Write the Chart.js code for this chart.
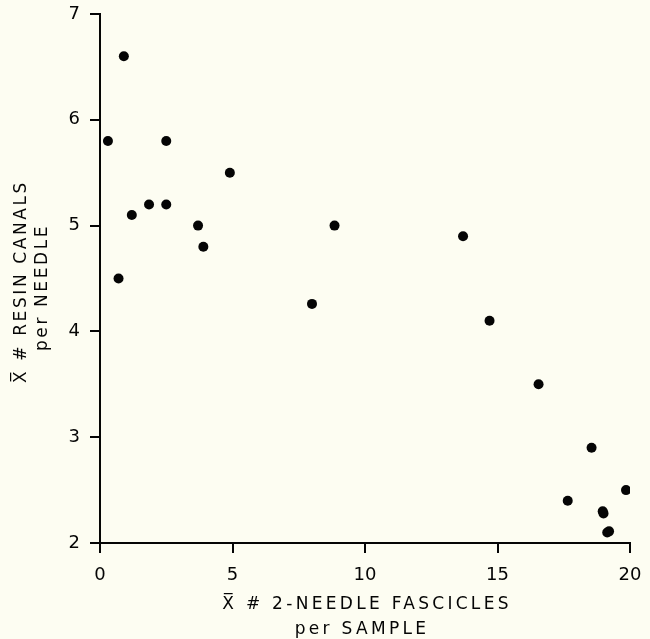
<!DOCTYPE html>
<html>
<head>
<meta charset="utf-8">
<script src="https://cdn.jsdelivr.net/npm/chart.js@4.4.1/dist/chart.umd.min.js"></script>
<style>
  html, body { margin: 0; padding: 0; background: #fdfdf2; }
  #wrap { width: 650px; height: 639px; position: relative; }
</style>
</head>
<body>
<div id="wrap"><canvas id="c" width="650" height="639"></canvas></div>
<script>
// Mean # of 2-needle fascicles per sample (x) vs mean # resin canals per needle (y)
const fasciclesPerSample = [0.3, 0.9, 0.7, 1.2, 1.85, 2.5, 2.5, 3.7, 3.9, 4.9, 8.0, 8.85, 13.7, 14.7, 16.55, 17.65, 18.55, 18.97, 19.0, 19.14, 19.21, 19.85];
const resinCanalsPerNeedle = [5.8, 6.6, 4.5, 5.1, 5.2, 5.2, 5.8, 5.0, 4.8, 5.5, 4.26, 5.0, 4.9, 4.1, 3.5, 2.4, 2.9, 2.30, 2.28, 2.1, 2.11, 2.5];
const xTicks = [0, 5, 10, 15, 20];
const yTicks = [2, 3, 4, 5, 6, 7];
const xTitle = ["X\u0305 # 2-NEEDLE FASCICLES", "per SAMPLE"];
const yTitle = ["X\u0305 # RESIN CANALS", "per NEEDLE"];

const points = fasciclesPerSample.map((x, i) => ({ x: x, y: resinCanalsPerNeedle[i] }));
const INK = '#050505';
const FONT = '"DejaVu Sans", "Liberation Sans", sans-serif';

const titlePlugin = {
  id: 'titles',
  afterDraw(chart) {
    const ctx = chart.ctx;
    const ca = chart.chartArea;
    ctx.save();
    ctx.fillStyle = INK;
    ctx.font = '17px ' + FONT;
    ctx.textAlign = 'center';
    ctx.textBaseline = 'middle';
    try { ctx.letterSpacing = '3.3px'; } catch (e) {}
    const cx = (ca.left + ca.right) / 2;
    ctx.fillText(xTitle[0], cx + 2, 605);
    ctx.fillText(xTitle[1], cx - 3, 630);
    const cy = (ca.top + ca.bottom) / 2;
    ctx.translate(22, cy + 3);
    ctx.rotate(-Math.PI / 2);
    try { ctx.letterSpacing = '2.6px'; } catch (e) {}
    ctx.fillText(yTitle[0], 0, 0);
    ctx.fillText(yTitle[1], -6, 21);
    ctx.restore();
  }
};

new Chart(document.getElementById('c'), {
  type: 'scatter',
  data: {
    datasets: [{
      data: points,
      backgroundColor: INK,
      borderColor: INK,
      pointRadius: 5,
      pointHoverRadius: 5,
      borderWidth: 0
    }]
  },
  options: {
    responsive: false,
    animation: false,
    events: [],
    layout: { padding: { left: 0, right: 20, top: 14, bottom: 0 } },
    plugins: { legend: { display: false }, tooltip: { enabled: false } },
    scales: {
      x: {
        type: 'linear',
        min: 0, max: 20,
        afterFit(s) { s.height = 96; s.paddingLeft = 0; s.paddingRight = 0; },
        afterBuildTicks(s) { s.ticks = xTicks.map(v => ({ value: v })); },
        border: { display: true, color: INK, width: 2 },
        grid: { drawOnChartArea: false, drawTicks: true, tickLength: 10, color: INK, lineWidth: 2 },
        ticks: { color: INK, font: { family: FONT, size: 18 }, padding: 12, maxRotation: 0 }
      },
      y: {
        type: 'linear',
        min: 2, max: 7,
        afterFit(s) { s.width = 100; s.paddingTop = 0; s.paddingBottom = 0; },
        afterBuildTicks(s) { s.ticks = yTicks.map(v => ({ value: v })); },
        border: { display: true, color: INK, width: 2 },
        grid: { drawOnChartArea: false, drawTicks: true, tickLength: 10, color: INK, lineWidth: 2 },
        ticks: { color: INK, font: { family: FONT, size: 18 }, padding: 10 }
      }
    }
  },
  plugins: [titlePlugin]
});
</script>
</body>
</html>
